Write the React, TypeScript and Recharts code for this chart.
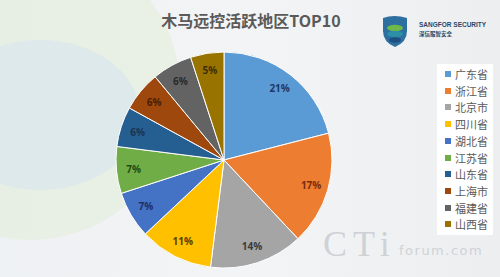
import { PieChart, Pie, Cell } from "recharts";

const provinces = ["广东省", "浙江省", "北京市", "四川省", "湖北省", "江苏省", "山东省", "上海市", "福建省", "山西省"];
const shares = [21, 17, 14, 11, 7, 7, 6, 6, 6, 5];
const sliceColors = ["#5b9bd5", "#ed7d31", "#a5a5a5", "#ffc000", "#4472c4", "#70ad47", "#255e91", "#9e480e", "#636363", "#997300"];
const labelColors = ["#1f3864", "#7b2c0c", "#3a3a3a", "#5c3d00", "#1f2f6b", "#214d14", "#1a3552", "#4a1e05", "#2a2a2a", "#3d2e00"];

const data = provinces.map((name, i) => ({ name, value: shares[i] }));

const RAD = Math.PI / 180;

function renderLabel(props: any) {
    const { cx, cy, midAngle, outerRadius, index, value } = props;
    const r = outerRadius * 0.84;
    const x = cx + r * Math.cos(-midAngle * RAD);
    const y = cy + r * Math.sin(-midAngle * RAD);
    return (
        <text
            x={x}
            y={y}
            textAnchor="middle"
            dominantBaseline="central"
            fill={labelColors[index]}
            fontSize={10}
            fontWeight="bold"
            fontFamily="'Open Sans', sans-serif"
        >
            {value}%
        </text>
    );
}

export default function App() {
    return (
        <div
            style={{
                position: "absolute",
                left: 0,
                top: 0,
                width: 500,
                height: 277,
                overflow: "hidden",
                background: "linear-gradient(90deg, #eef1f3 0%, #f3f4f5 50%, #eceef0 100%)",
                fontFamily: "'Noto Sans CJK SC', sans-serif",
            }}
        >
            {/* pale decorative shapes behind the chart */}
            <div style={{ position: "absolute", left: -120, top: -60, width: 300, height: 300, borderRadius: "50%", background: "rgba(225,236,215,0.55)" }} />
            <div style={{ position: "absolute", left: -60, top: 40, width: 200, height: 150, borderRadius: "50%", background: "rgba(215,228,240,0.6)" }} />

            <div style={{ position: "absolute", left: 0, top: 8, width: 502, textAlign: "center", fontSize: 16, fontWeight: "bold", color: "#5a5a5a" }}>
                木马远控活跃地区TOP10
            </div>

            {/* logo */}
            <svg style={{ position: "absolute", left: 380, top: 15 }} width={115} height={34}>
                <path d="M3 3 Q14 -1 27 3 L27 16 Q27 27 15 32 Q3 27 3 16 Z" fill="#2d6f9e" />
                <ellipse cx={15} cy={13} rx={8} ry={3.2} fill="#6fb84a" />
                <ellipse cx={15} cy={19} rx={8} ry={3.2} fill="#2b8fa8" />
                <ellipse cx={15} cy={25} rx={6} ry={2.8} fill="#1d4f80" />
                <text x={39} y={12} fontSize={6.5} fontWeight="bold" fill="#2c4766" fontFamily="'Liberation Sans', sans-serif">SANGFOR  SECURITY</text>
                <text x={39} y={21} fontSize={5.5} fontWeight="bold" fill="#2c4766">深信服智安全</text>
            </svg>

            {/* watermark */}
            <div style={{ position: "absolute", left: 323, top: 222, fontFamily: "'Liberation Serif', serif", fontSize: 36, lineHeight: "44px", color: "rgba(195,200,205,0.75)", letterSpacing: 6 }}>
                CTi
            </div>
            <div style={{ position: "absolute", left: 399, top: 242, fontFamily: "'DejaVu Sans', sans-serif", fontSize: 13, lineHeight: "18px", color: "rgba(195,200,205,0.75)", letterSpacing: 1.5 }}>
                forum.com
            </div>

            <div style={{ position: "absolute", left: 0, top: 0 }}>
                <PieChart width={500} height={277}>
                    <Pie
                        data={data}
                        dataKey="value"
                        nameKey="name"
                        cx={219}
                        cy={155}
                        outerRadius={108}
                        startAngle={90}
                        endAngle={-270}
                        stroke="#ffffff"
                        strokeWidth={1}
                        label={renderLabel}
                        labelLine={false}
                        isAnimationActive={false}
                    >
                        {data.map((d, i) => (
                            <Cell key={d.name} fill={sliceColors[i]} />
                        ))}
                    </Pie>
                </PieChart>
            </div>

            {/* legend */}
            <div style={{ position: "absolute", left: 437, top: 64, width: 56, height: 171, background: "#ffffff" }}>
                {provinces.map((p, i) => (
                    <div key={p} style={{ position: "absolute", left: 8, top: 3 + i * 16.7, height: 14, display: "flex", alignItems: "center", fontSize: 11, color: "#595959" }}>
                        <span style={{ width: 6, height: 6, background: sliceColors[i], marginRight: 4, display: "inline-block" }} />
                        {p}
                    </div>
                ))}
            </div>
        </div>
    );
}
